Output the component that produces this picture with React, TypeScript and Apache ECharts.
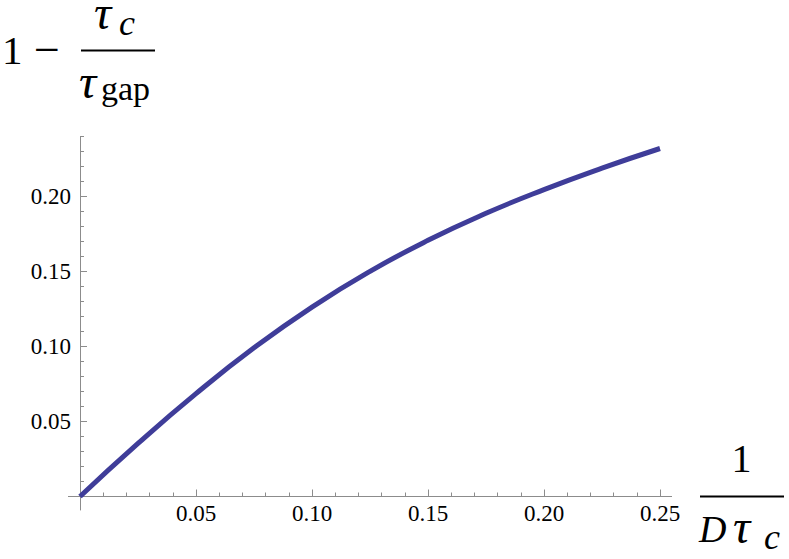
import React, { useEffect, useRef } from 'react';
import * as echarts from 'echarts';

// 1/(D tau_c) values and 1 - tau_c/tau_gap values
const xValues = [0, 0.025, 0.05, 0.075, 0.1, 0.125, 0.15, 0.175, 0.2, 0.225, 0.25];
const yValues = [0, 0.0354, 0.0686, 0.0991, 0.1263, 0.1501, 0.1708, 0.1888, 0.2046, 0.2189, 0.232];

const xTickMajor = 0.05;
const yTickMajor = 0.05;
const yTickMinor = 0.01;

const FONT = '"Liberation Serif", "Times New Roman", serif';
const AXIS_COLOR = '#8c8c8c';
const CURVE_COLOR = '#3f3d99';

export default function App() {
  const ref = useRef<HTMLDivElement>(null);
  useEffect(() => {
    if (!ref.current) return;
    const chart = echarts.init(ref.current, undefined, { renderer: 'svg' });
    const data = xValues.map((x, i) => [x, yValues[i]]);
    const txt = (text: string, x: number, y: number, size: number, italic = false, align = 'left', lh?: number) => ({
      type: 'text',
      x,
      y,
      style: {
        text,
        fontFamily: FONT,
        fontSize: size,
        fontStyle: italic ? 'italic' : 'normal',
        fill: '#000',
        textAlign: align,
        textVerticalAlign: 'middle',
        lineHeight: lh ?? size,
      },
    });
    chart.setOption({
      animation: false,
      backgroundColor: '#fff',
      grid: [
        // ticks & labels
        { left: 80, right: 129, top: 136.5, bottom: 62.5, containLabel: false },
        // axis lines & curve
        { left: 68.4, right: 117.4, top: 136.5, bottom: 49, containLabel: false },
        // major y ticks
        { left: 80, right: 129, top: 196.5, bottom: 62.5, containLabel: false },
      ],
      xAxis: [
        {
          gridIndex: 0, type: 'value', min: 0, max: 0.25, interval: xTickMajor,
          axisLine: { show: false },
          axisTick: { show: true, inside: true, length: 7, lineStyle: { color: AXIS_COLOR } },
          minorTick: { show: true, splitNumber: 5, length: 4, lineStyle: { color: AXIS_COLOR } },
          splitLine: { show: false },
          axisLabel: {
            margin: 5, color: '#000', fontFamily: FONT, fontSize: 23,
            formatter: (v: number) => (v > 1e-9 ? v.toFixed(2) : ''),
          },
        },
        {
          gridIndex: 1, type: 'value', min: -0.005, max: 0.255,
          axisLine: { show: true, onZero: true, lineStyle: { color: AXIS_COLOR, width: 1 } },
          axisTick: { show: false }, axisLabel: { show: false }, splitLine: { show: false },
        },
        { gridIndex: 2, type: 'value', min: 0, max: 0.25, show: false },
      ],
      yAxis: [
        {
          gridIndex: 0, type: 'value', min: 0, max: 0.24, interval: yTickMinor,
          axisLine: { show: false },
          axisTick: { show: true, inside: true, length: 4, lineStyle: { color: AXIS_COLOR } },
          splitLine: { show: false },
          axisLabel: {
            margin: 9, color: '#000', fontFamily: FONT, fontSize: 23,
            formatter: (v: number) => {
              const k = Math.round(v / yTickMinor);
              return k > 0 && k % 5 === 0 ? v.toFixed(2) : '';
            },
          },
        },
        {
          gridIndex: 1, type: 'value', min: -0.009, max: 0.24,
          axisLine: { show: true, onZero: true, lineStyle: { color: AXIS_COLOR, width: 1 } },
          axisTick: { show: false }, axisLabel: { show: false }, splitLine: { show: false },
        },
        {
          gridIndex: 2, type: 'value', min: 0, max: 0.2, interval: yTickMajor,
          axisLine: { show: false },
          axisTick: { show: true, inside: true, length: 7, lineStyle: { color: AXIS_COLOR } },
          axisLabel: { show: false }, splitLine: { show: false },
        },
      ],
      series: [
        {
          type: 'line',
          xAxisIndex: 1,
          yAxisIndex: 1,
          data,
          smooth: true,
          showSymbol: false,
          lineStyle: { color: CURVE_COLOR, width: 5 },
          silent: true,
        },
      ],
      graphic: [
        // y-axis title: 1 - tau_c / tau_gap
        txt('1', 2, 49.5, 41),
        txt('\u2212', 34, 49, 46),
        { type: 'line', shape: { x1: 81, y1: 50.5, x2: 155, y2: 50.5 }, style: { stroke: '#000', lineWidth: 2 } },
        txt('\u03c4', 94, 12.5, 48, true, 'left', 24),
        txt('c', 119, 23, 36, true, 'left', 30),
        txt('\u03c4', 79, 81, 48, true),
        txt('gap', 101, 88.5, 34),
        // x-axis title: 1 / (D tau_c)
        txt('1', 741.5, 458, 40, false, 'center'),
        { type: 'line', shape: { x1: 700, y1: 496.5, x2: 784, y2: 496.5 }, style: { stroke: '#000', lineWidth: 2 } },
        txt('D', 699, 529, 38, true),
        txt('\u03c4', 733, 526, 48, true, 'left', 40),
        txt('c', 764, 536.5, 36, true, 'left', 30),
      ],
    });
    return () => chart.dispose();
  }, []);
  return <div ref={ref} style={{ position: 'absolute', left: 0, top: 0, width: 789, height: 559 }} />;
}
